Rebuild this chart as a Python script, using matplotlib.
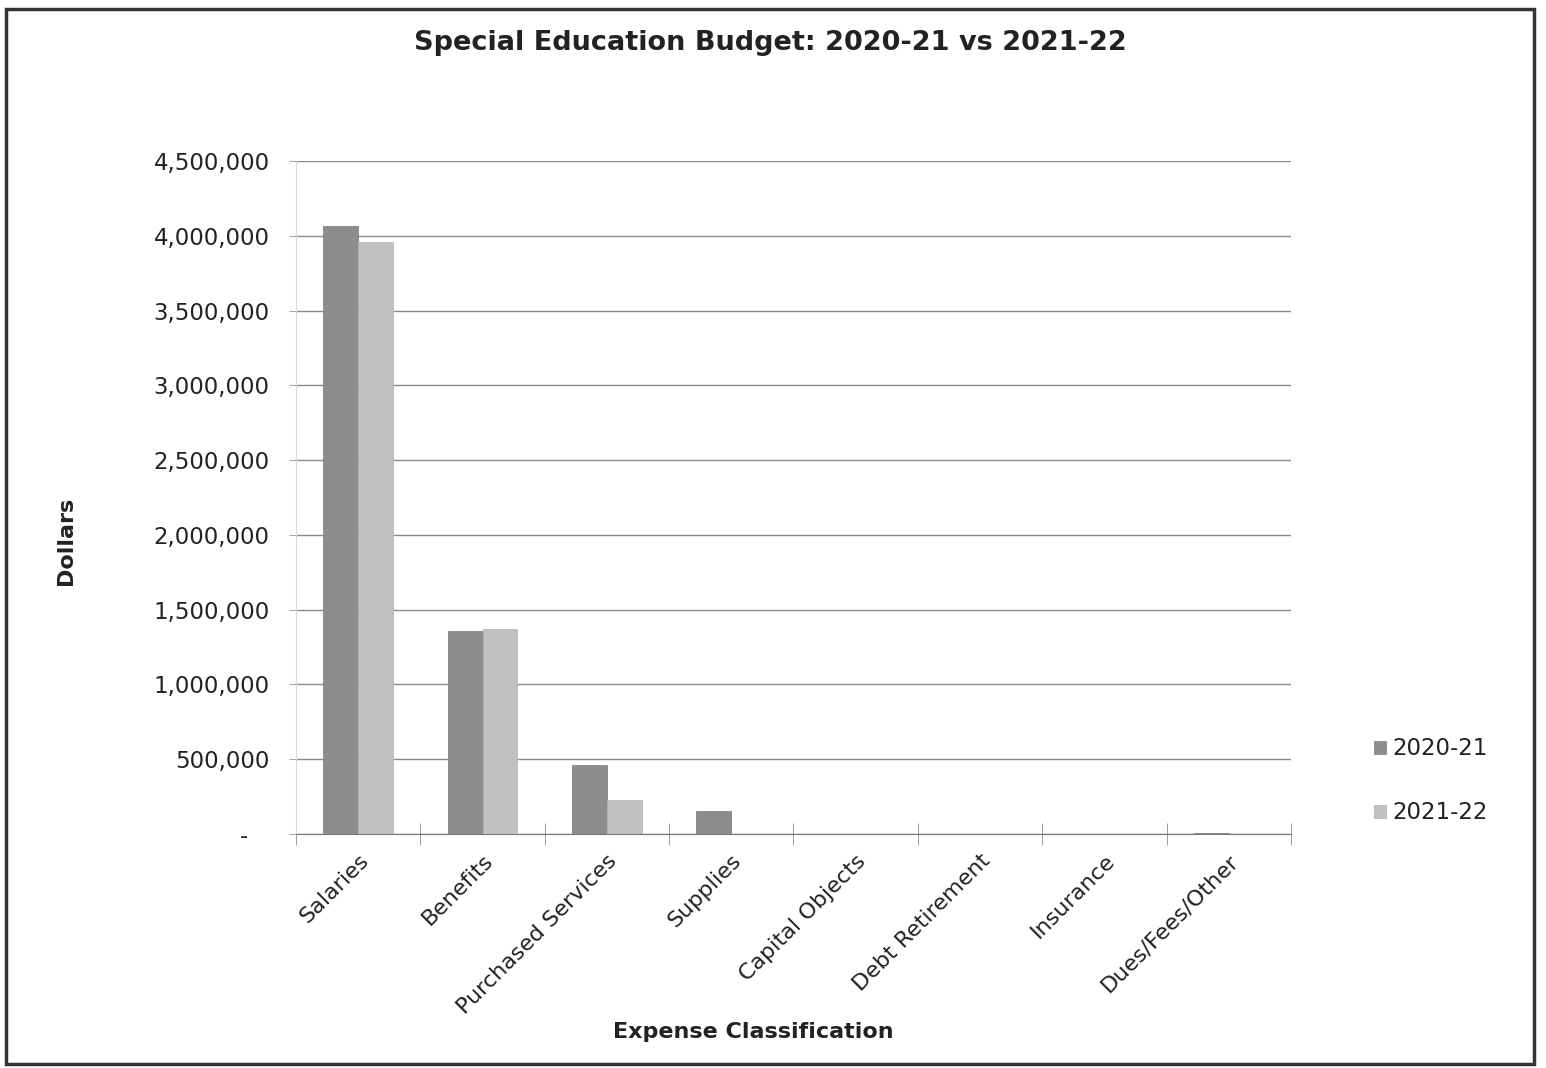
import matplotlib
matplotlib.use("Agg")
import matplotlib.pyplot as plt
from matplotlib.patches import Rectangle
from matplotlib.ticker import FuncFormatter, FixedLocator
import numpy as np

categories = ["Salaries", "Benefits", "Purchased Services", "Supplies",
              "Capital Objects", "Debt Retirement", "Insurance", "Dues/Fees/Other"]
budget_2020_21 = [4065000, 1357000, 461000, 154000, 0, 0, 0, 5000]
budget_2021_22 = [3957000, 1370000, 227000, 0, 0, 0, 0, 0]
series_labels = ["2020-21", "2021-22"]
yticks = [0, 500000, 1000000, 1500000, 2000000, 2500000, 3000000, 3500000, 4000000, 4500000]

plt.rcParams["font.family"] = ["DejaVu Sans"]

fig = plt.figure(figsize=(15.46, 10.68), dpi=100)
ax = fig.add_axes([0.1915, 0.2191, 0.835 - 0.1915, 0.8493 - 0.2191])

x = np.arange(len(categories))
w = 0.28
c1, c2 = "#8c8c8c", "#c0c0c0"
ax.bar(x - w / 2, budget_2020_21, w, color=c1, edgecolor="#7a7a7a", linewidth=0.5,
       label=series_labels[0], zorder=3)
ax.bar(x + w / 2, budget_2021_22, w, color=c2, edgecolor="#b0b0b0", linewidth=0.5,
       label=series_labels[1], zorder=3)

ax.set_xlim(-0.5, len(categories) - 0.5)
ax.set_ylim(0, 4500000)
ax.set_yticks(yticks)
# accounting style: zero shown as a dash, set in from the right edge
ax.yaxis.set_major_formatter(FuncFormatter(lambda v, p: "-   " if v == 0 else f"{int(v):,}"))
ax.yaxis.grid(True, color="#8a8a8a", linewidth=1.0, zorder=0)
ax.set_axisbelow(True)

ax.set_xticks(x)
ax.set_xticklabels(categories, rotation=45, ha="right", rotation_mode="anchor", fontsize=16,
                   color="#222222")
ax.tick_params(axis="x", length=0, pad=12)
ax.xaxis.set_minor_locator(FixedLocator(np.arange(-0.5, len(categories), 1.0)))
ax.tick_params(axis="x", which="minor", length=16, direction="inout", color="#888888")
ax.tick_params(axis="y", length=5, direction="out", color="#aaaaaa", labelsize=16.5,
               labelcolor="#222222", pad=14)

for s in ["top", "right"]:
    ax.spines[s].set_visible(False)
ax.spines["left"].set_color("#d8d8d8")
ax.spines["bottom"].set_color("#777777")

fig.text(66 / 1546, 1 - 541 / 1068, "Dollars", rotation=90, ha="center", va="center",
         fontsize=16, fontweight="bold", color="#222222")
fig.text(753 / 1546, 1 - 1032 / 1068, "Expense Classification", ha="center", va="center",
         fontsize=16, fontweight="bold", color="#222222")
fig.text(770 / 1546, 1 - 43 / 1068, "Special Education Budget: 2020-21 vs 2021-22",
         ha="center", va="center", fontsize=19.5, fontweight="bold", color="#222222")

ax.legend(loc="center left", bbox_to_anchor=(1.063, 0.079), frameon=False,
          fontsize=16.5, handlelength=0.5, handleheight=0.5, handletextpad=0.3,
          labelspacing=1.8, labelcolor="#222222")

# outer frame around the whole chart
fig.add_artist(Rectangle((0.004, 0.004), 0.988, 0.988, transform=fig.transFigure,
                         fill=False, edgecolor="#333333", linewidth=2.5))

fig.savefig("out.png", dpi=100)
